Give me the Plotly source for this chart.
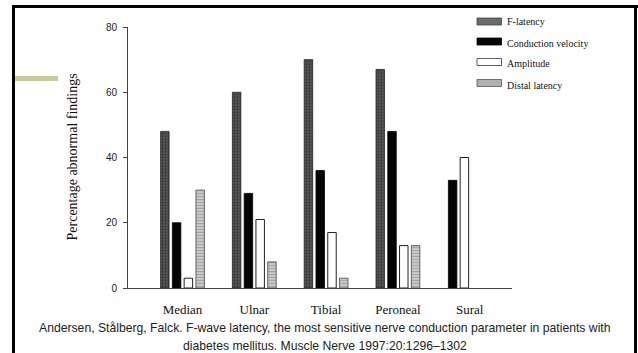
import plotly.graph_objects as go

W, H = 638, 353

nerves = ["Median", "Ulnar", "Tibial", "Peroneal", "Sural"]
f_latency = [48, 60, 70, 67, None]
conduction_velocity = [20, 29, 36, 48, 33]
amplitude = [3, 21, 17, 13, 40]
distal_latency = [30, 8, 3, 13, None]
y_ticks = [0, 20, 40, 60, 80]
series_names = ["F-latency", "Conduction velocity", "Amplitude", "Distal latency"]

caption_1 = "Andersen, Stålberg, Falck. F-wave latency, the most sensitive nerve conduction parameter in patients with"
caption_2 = "diabetes mellitus. Muscle Nerve 1997:20:1296–1302"

# bar geometry in category units
bw = 0.118
step = 0.164
def offsets(slot, sural_slot):
    o = [slot * step - bw / 2] * len(nerves)
    o[-1] = sural_slot * step - bw / 2
    return o

def px(x):
    return x / W
def py(y):
    return 1 - y / H

fig = go.Figure()
fig.add_trace(go.Bar(
    x=nerves, y=f_latency, name=series_names[0], width=bw, offset=offsets(-1.5, -1.5),
    marker=dict(color="#444", line=dict(color="#222", width=0.8),
                pattern=dict(shape=".", fgcolor="#222", bgcolor="#555", size=3, solidity=0.45)),
))
fig.add_trace(go.Bar(
    x=nerves, y=conduction_velocity, name=series_names[1], width=bw, offset=offsets(-0.5, -1.45),
    marker=dict(color="#050505", line=dict(color="#000", width=0.8)),
))
fig.add_trace(go.Bar(
    x=nerves, y=amplitude, name=series_names[2], width=bw, offset=offsets(0.5, -0.45),
    marker=dict(color="#ffffff", line=dict(color="#222", width=1)),
))
fig.add_trace(go.Bar(
    x=nerves, y=distal_latency, name=series_names[3], width=bw, offset=offsets(1.5, 1.5),
    marker=dict(color="#b0b0b0", line=dict(color="#555", width=0.9),
                pattern=dict(shape="-", fgcolor="#8a8a8a", bgcolor="#c8c8c8", size=3, solidity=0.4)),
))

x0, x1 = 128, 512
y0, y1 = 288, 27
fig.update_layout(
    width=W, height=H, margin=dict(l=0, r=0, t=0, b=0, autoexpand=False),
    paper_bgcolor="white", plot_bgcolor="white",
    barmode="overlay", showlegend=False,
    xaxis=dict(domain=[px(x0), px(x1)], range=[-0.759, 4.589], type="category",
               showline=True, linecolor="#444", linewidth=1, ticks="", showgrid=False,
               tickfont=dict(family="Liberation Serif", size=13, color="#111"),
               ticklabelstandoff=9, fixedrange=True, automargin=False),
    yaxis=dict(domain=[py(y0), py(y1)], range=[0, 80], tickvals=y_ticks,
               showline=True, linecolor="#444", linewidth=1, ticks="outside", ticklen=4,
               tickcolor="#444", showgrid=False, zeroline=False,
               tickfont=dict(family="Liberation Sans", size=10, color="#222"),
               ticklabelstandoff=4, fixedrange=True, automargin=False),
)

shapes = []
# frame
for (a, b, c, d) in [(12, 15, 5, 353), (12, 638, 5, 8), (634, 637, 5, 353)]:
    shapes.append(dict(type="rect", xref="paper", yref="paper", x0=px(a), x1=px(b), y0=py(d), y1=py(c),
                       fillcolor="black", line=dict(width=0), layer="above"))
# olive accent bar
shapes.append(dict(type="rect", xref="paper", yref="paper", x0=px(15), x1=px(58), y0=py(81), y1=py(76),
                   fillcolor="#c9c99a", line=dict(width=0)))

# legend
sw_y = [21.5, 41.5, 62, 83]
tx_y = [22, 43, 64, 86]
leg_fill = ["#6a6a6a", "#050505", "#ffffff", "#b0b0b0"]
leg_line = ["#444", "#000", "#333", "#555"]
anns = []
for sy, ty, name, fc, lc in zip(sw_y, tx_y, series_names, leg_fill, leg_line):
    shapes.append(dict(type="rect", xref="paper", yref="paper", x0=px(477), x1=px(501.5),
                       y0=py(sy + 3.5), y1=py(sy - 3.5), fillcolor=fc, line=dict(color=lc, width=0.8)))
    anns.append(dict(x=px(505), y=py(ty), xref="paper", yref="paper", text=name, showarrow=False,
                     xanchor="left", yanchor="middle",
                     font=dict(family="Liberation Serif", size=10, color="#111")))

anns.append(dict(x=px(72), y=py(157.5), xref="paper", yref="paper", text="Percentage abnormal findings",
                 showarrow=False, textangle=-90, xanchor="center", yanchor="middle",
                 font=dict(family="Liberation Serif", size=14, color="#111")))
anns.append(dict(x=px(325), y=py(328), xref="paper", yref="paper", text=caption_1, showarrow=False,
                 xanchor="center", yanchor="middle", font=dict(family="Liberation Sans", size=12.2, color="#222")))
anns.append(dict(x=px(325), y=py(345.5), xref="paper", yref="paper", text=caption_2, showarrow=False,
                 xanchor="center", yanchor="middle", font=dict(family="Liberation Sans", size=12.2, color="#222")))

fig.update_layout(shapes=shapes, annotations=anns)
post = ("document.documentElement.style.margin='0';document.body.style.margin='0';"
        "document.documentElement.style.overflow='hidden';document.body.style.overflow='hidden';")
fig.write_html("out.html", config={"displayModeBar": False}, post_script=post)
